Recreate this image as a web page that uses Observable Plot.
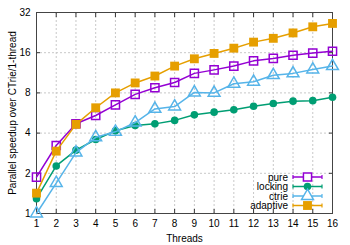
<!DOCTYPE html>
<html><head>
<meta charset="utf-8">
<script src="https://cdn.jsdelivr.net/npm/d3@7"></script>
<script src="https://cdn.jsdelivr.net/npm/@observablehq/plot@0.6"></script>
<style>
body{margin:0;background:#fff}
#chart{position:relative;width:350px;height:245px}
svg{font-family:"Liberation Sans",Arial,sans-serif}
</style>
</head><body><div id="chart"></div>
<script>
const threads = [1,2,3,4,5,6,7,8,9,10,11,12,13,14,15,16];
const yTicks = [1,2,4,8,16,32];
const seriesNames = ["pure","locking","ctrie","adaptive"];
const seriesColors = ["#9400d3","#009e73","#56b4e9","#e69f00"];
const pure     = [1.87,3.23,4.7,5.42,6.5,7.8,8.74,9.57,11.2,11.9,12.7,13.9,14.5,15.3,15.9,16.4];
const locking  = [1.29,2.27,2.98,3.58,4.16,4.56,4.69,4.98,5.48,5.74,5.98,6.36,6.66,6.94,7.0,7.43];
const ctrie    = [1.0,1.69,2.86,3.72,4.09,4.8,6.07,6.32,8.06,8.0,9.37,9.69,10.86,11.2,11.97,12.7];
const adaptive = [1.42,2.93,4.65,6.19,8.0,9.5,10.7,12.7,14.4,15.8,17.3,19.2,20.5,22.5,25.0,26.5];

const allSeries = [pure, locking, ctrie, adaptive];
const rows = [];
allSeries.forEach((vals, si) => vals.forEach((v, i) => rows.push({series: seriesNames[si], x: threads[i], y: v})));
const sel = n => rows.filter(d => d.series === n);
const col = n => seriesColors[seriesNames.indexOf(n)];

const chart = Plot.plot({
  width: 350, height: 245,
  marginLeft: 36, marginRight: 18, marginTop: 12, marginBottom: 32,
  style: {fontFamily: '"Liberation Sans", Arial, sans-serif', fontSize: "10px", color: "#000", background: "#fff"},
  x: {domain: [1, 16]},
  y: {type: "log", base: 2, domain: [1, 32]},
  marks: [
    Plot.gridX(threads, {stroke: "#c8c8c8", strokeOpacity: 1, strokeDasharray: "2,2"}),
    Plot.gridY(yTicks, {stroke: "#c8c8c8", strokeOpacity: 1, strokeDasharray: "2,2"}),
    Plot.axisX({ticks: threads, tickSize: 0, tickPadding: 6, tickFormat: d => d, label: "Threads", labelAnchor: "center", labelArrow: "none", labelOffset: 28, fill: "#000"}),
    Plot.axisX({ticks: threads, tickSize: -4, tickFormat: () => "", label: null, stroke: "#333"}),
    Plot.axisX({anchor: "top", ticks: threads, tickSize: -4, tickFormat: () => "", label: null, stroke: "#333"}),
    Plot.axisY({ticks: yTicks, tickSize: 0, tickPadding: 6, tickFormat: d => d, label: "Parallel speedup over CTrie/1-thread", labelAnchor: "center", labelArrow: "none", labelOffset: 28, fill: "#000"}),
    Plot.axisY({ticks: yTicks, tickSize: -4, tickFormat: () => "", label: null, stroke: "#333"}),
    Plot.axisY({anchor: "right", ticks: yTicks, tickSize: -4, tickFormat: () => "", label: null, stroke: "#333"}),
    Plot.frame({stroke: "#444"}),
    Plot.line(sel("pure"), {x: "x", y: "y", stroke: col("pure"), strokeWidth: 1.5}),
    Plot.dot(sel("pure"), {x: "x", y: "y", symbol: "square", r: 4.6, stroke: col("pure"), fill: "#fff", fillOpacity: 0, strokeWidth: 1.5}),
    Plot.line(sel("locking"), {x: "x", y: "y", stroke: col("locking"), strokeWidth: 1.5}),
    Plot.dot(sel("locking"), {x: "x", y: "y", symbol: "circle", r: 3.8, fill: col("locking"), stroke: "none"}),
    Plot.line(sel("ctrie"), {x: "x", y: "y", stroke: col("ctrie"), strokeWidth: 1.5}),
    Plot.dot(sel("ctrie"), {x: "x", y: "y", symbol: "triangle", r: 4.4, stroke: col("ctrie"), fill: "none", strokeWidth: 1.5}),
    Plot.line(sel("adaptive"), {x: "x", y: "y", stroke: col("adaptive"), strokeWidth: 1.5}),
    Plot.dot(sel("adaptive"), {x: "x", y: "y", symbol: "square", r: 5, fill: col("adaptive"), stroke: "none"})
  ]
});
document.getElementById("chart").appendChild(chart);

// Legend (inside plot, bottom right)
const svg = d3.select(chart);
const lg = svg.append("g").attr("font-size", "10px").attr("font-family", '"Liberation Sans", Arial, sans-serif');
const legendY = [177, 186.5, 196, 205.5];
const symbols = {pure: d3.symbolSquare, locking: d3.symbolCircle, ctrie: d3.symbolTriangle, adaptive: d3.symbolSquare};
const sizes = {pure: Math.PI*4.6*4.6, locking: Math.PI*3.8*3.8, ctrie: Math.PI*4.4*4.4, adaptive: Math.PI*5*5};
seriesNames.forEach((n, i) => {
  const y = legendY[i], c = seriesColors[i];
  lg.append("text").attr("x", 288).attr("y", y).attr("dy", "0.35em").attr("text-anchor", "end").attr("fill", "#000").text(n);
  lg.append("line").attr("x1", 293).attr("x2", 322).attr("y1", y).attr("y2", y).attr("stroke", c).attr("stroke-width", 1.5);
  lg.append("line").attr("x1", 293).attr("x2", 293).attr("y1", y-2).attr("y2", y+2).attr("stroke", c).attr("stroke-width", 1.2);
  lg.append("line").attr("x1", 322).attr("x2", 322).attr("y1", y-2).attr("y2", y+2).attr("stroke", c).attr("stroke-width", 1.2);
  const filled = (n === "locking" || n === "adaptive");
  lg.append("path").attr("transform", `translate(307.5,${y})`)
    .attr("d", d3.symbol(symbols[n], sizes[n])())
    .attr("fill", filled ? c : "#fff").attr("stroke", filled ? "none" : c).attr("stroke-width", 1.5);
});
</script>
</body></html>
